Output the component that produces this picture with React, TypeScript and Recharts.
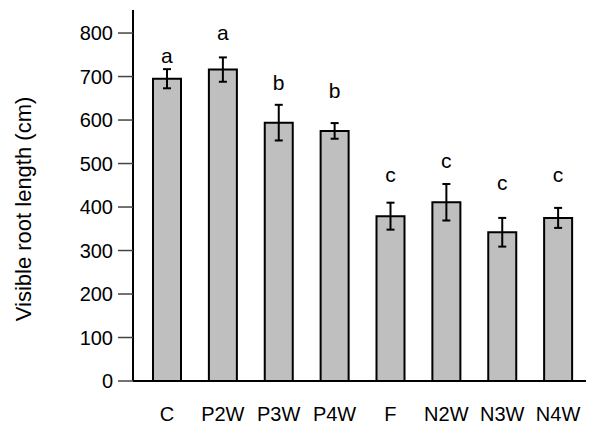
import React from 'react';
import { ComposedChart, Bar, XAxis, YAxis, ErrorBar, Scatter } from 'recharts';

const categories = ['C', 'P2W', 'P3W', 'P4W', 'F', 'N2W', 'N3W', 'N4W'];
const means = [695, 716, 594, 575, 379, 411, 342, 375];
const errors = [22, 28, 41, 18, 31, 42, 33, 23];
const letters = ['a', 'a', 'b', 'b', 'c', 'c', 'c', 'c'];
const letterAt = [730, 783, 669, 650, 457, 489, 439, 457];
const yTicks = [0, 100, 200, 300, 400, 500, 600, 700, 800];

const data = categories.map((name, i) => ({
  name,
  mean: means[i],
  err: errors[i],
  letter: letters[i],
  letterAt: letterAt[i],
}));

const FONT = '"Liberation Sans", Arial, sans-serif';

const LetterShape = (props: any) => {
  const { cx, cy, payload } = props;
  if (cx == null || cy == null) return null;
  return (
    <text x={cx} y={cy} textAnchor="middle" fontSize={21} fill="#000" fontFamily={FONT}>
      {payload.letter}
    </text>
  );
};

const YLabel = () => (
  <text
    x={23}
    y={209}
    transform="rotate(-90, 23, 209)"
    textAnchor="middle"
    dominantBaseline="central"
    fontSize={22}
    fill="#000"
    fontFamily={FONT}
  >
    Visible root length (cm)
  </text>
);

export default function App() {
  return (
    <div style={{ position: 'absolute', left: 0, top: 0, width: 592, height: 427, background: '#fff' }}>
      <ComposedChart
        width={592}
        height={427}
        data={data}
        margin={{ top: 10, right: 6, bottom: 0, left: 0 }}
        barCategoryGap={0}
      >
        <XAxis
          dataKey="name"
          type="category"
          height={46}
          tickLine={false}
          tickSize={0}
          tickMargin={26}
          axisLine={{ stroke: '#000', strokeWidth: 2 }}
          padding={{ left: 6, right: 0 }}
          tick={{ fontSize: 20, fill: '#000', fontFamily: FONT }}
          interval={0}
        />
        <YAxis
          type="number"
          width={133}
          domain={[0, 853]}
          ticks={yTicks}
          allowDataOverflow
          tickSize={15}
          tickMargin={5}
          tickLine={{ stroke: '#444', strokeWidth: 1.5 }}
          axisLine={{ stroke: '#000', strokeWidth: 2 }}
          tick={{ fontSize: 20, fill: '#000', fontFamily: FONT }}
          label={<YLabel />}
        />
        <Bar
          dataKey="mean"
          fill="#bfbfbf"
          stroke="#000"
          strokeWidth={2}
          barSize={28}
          isAnimationActive={false}
        >
          <ErrorBar dataKey="err" width={4} stroke="#000" strokeWidth={2} direction="y" />
        </Bar>
        <Scatter dataKey="letterAt" shape={<LetterShape />} isAnimationActive={false} />
      </ComposedChart>
    </div>
  );
}
